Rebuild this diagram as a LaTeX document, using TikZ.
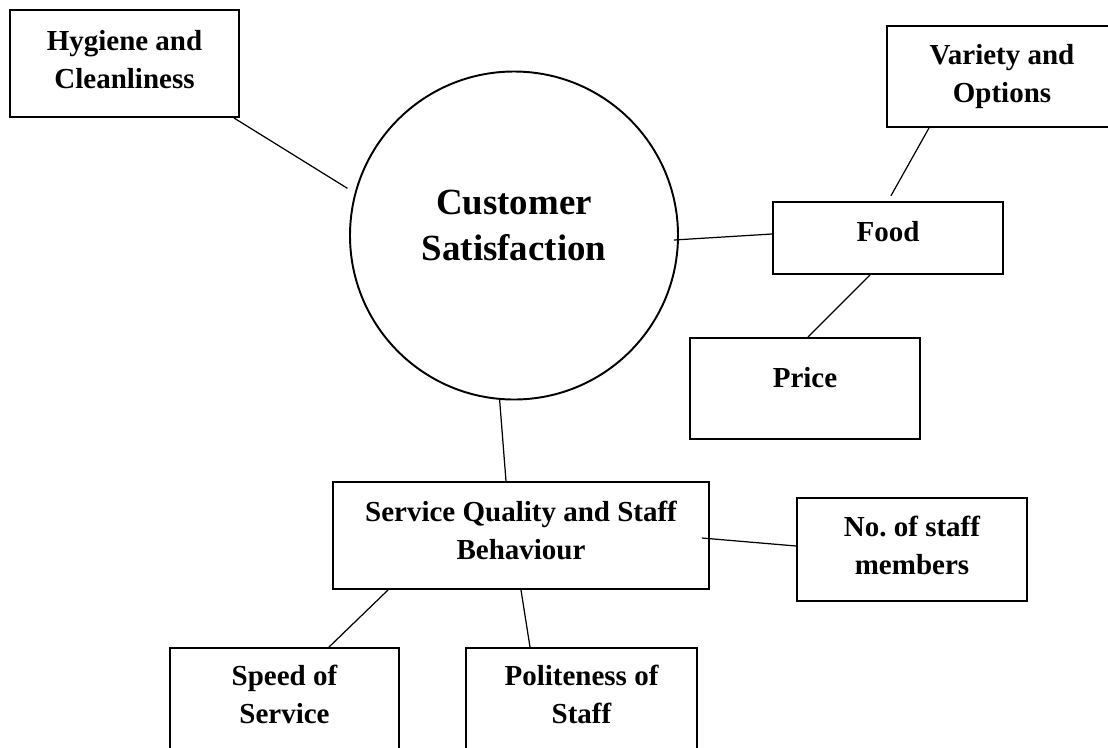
\documentclass[tikz,border=0pt]{standalone}
\usepackage{fontspec}
\setmainfont{Liberation Serif}
\usetikzlibrary{positioning,calc}

\tikzset{
  factor/.style={draw, rectangle, line width=1.1pt, minimum width=4.6cm, minimum height=2.14cm},
  hub/.style={draw, circle, line width=1.1pt, minimum size=6.56cm},
  caption/.style={align=center, inner sep=0pt, font=\bfseries\fontsize{16.5}{21.5}\selectfont},
  bigcaption/.style={caption, font=\bfseries\fontsize{21}{26}\selectfont},
  link/.style={line width=0.7pt}
}

\begin{document}
\begin{tikzpicture}
  \useasboundingbox (0,0) rectangle (22.16,-14.94);
  \clip (0,0) rectangle (22.16,-14.94);

  % Centre
  \node[hub] (cs) at (10.28,-4.71) {};
  \node[bigcaption] (cs-text) at ([yshift=0.2cm]cs.center) {Customer\\Satisfaction};

  % Hygiene
  \node[factor, minimum width=4.58cm] (hygiene) at (2.49,-1.27) {};
  \node[caption] (hygiene-text) at ([yshift=0.08cm]hygiene.center) {Hygiene and\\Cleanliness};

  % Food branch
  \node[factor, minimum height=1.44cm] (food) at (17.76,-4.76) {};
  \node[caption] (food-text) at ([yshift=0.12cm]food.center) {Food};
  \node[factor, minimum height=2.02cm] (variety) at (20.04,-1.53) {};
  \node[caption] (variety-text) at (variety.center) {Variety and\\Options};
  \node[factor, minimum height=2.02cm] (price) at (16.1,-7.77) {};
  \node[caption] (price-text) at ([yshift=0.22cm]price.center) {Price};

  % Service branch
  \node[factor, minimum width=7.52cm] (service) at (10.42,-10.71) {};
  \node[caption] (service-text) at ([yshift=0.1cm]service.center) {Service Quality and Staff\\Behaviour};
  \node[factor, minimum height=2.06cm] (staff) at (18.24,-10.99) {};
  \node[caption] (staff-text) at ([yshift=0.08cm]staff.center) {No.\ of staff\\members};
  \node[factor, minimum width=4.58cm] (speed) at (5.69,-14.03) {};
  \node[caption] (speed-text) at ([yshift=0.14cm]speed.center) {Speed of\\Service};
  \node[factor, minimum width=4.62cm] (polite) at (11.63,-14.03) {};
  \node[caption] (polite-text) at ([yshift=0.14cm]polite.center) {Politeness of\\Staff};

  % Connectors
  \draw[link, shorten >=0.17cm] ([xshift=-0.12cm]hygiene.south east) -- (cs.165);
  \draw[link] ([shift={(-0.1,-0.09)}]cs.east) -- ([yshift=0.08cm]food.west);
  \draw[link, shorten >=0.12cm] ([xshift=-1.46cm]variety.south) -- (food.north);
  \draw[link] ([xshift=-0.36cm]food.south) -- ([xshift=0.06cm]price.north);
  \draw[link] (cs.-95) -- ([xshift=-0.3cm]service.north);
  \draw[link] ([shift={(-0.16,-0.05)}]service.east) -- ([yshift=0.07cm]staff.west);
  \draw[link] ([xshift=1.12cm]service.south west) -- ([xshift=0.89cm]speed.north);
  \draw[link] (service.south) -- ([xshift=-1.03cm]polite.north);
\end{tikzpicture}
\end{document}
